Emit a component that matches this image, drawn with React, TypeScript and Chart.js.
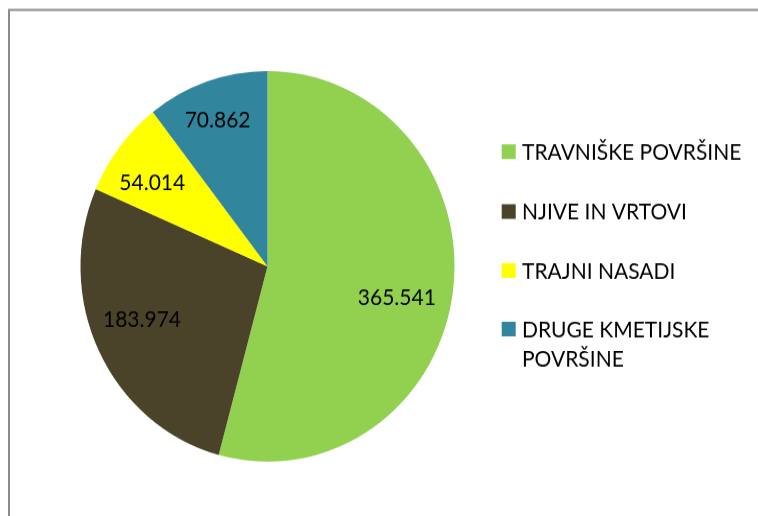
import React, { useEffect, useRef } from "react";
import { Chart, registerables } from "chart.js";

Chart.register(...registerables);

const categories = ["TRAVNIŠKE POVRŠINE", "NJIVE IN VRTOVI", "TRAJNI NASADI", "DRUGE KMETIJSKE POVRŠINE"];
const legendLines = [["TRAVNIŠKE POVRŠINE"], ["NJIVE IN VRTOVI"], ["TRAJNI NASADI"], ["DRUGE KMETIJSKE", "POVRŠINE"]];
const values = [365541, 183974, 54014, 70862];
const valueLabels = ["365.541", "183.974", "54.014", "70.862"];
const colors = ["#92d050", "#4a4229", "#ffff00", "#31859c"];

const FONT = "Lato, 'Open Sans', sans-serif";
const W = 758;
const H = 494; // drawn height, stretched to 516 on the page

const decorPlugin = {
  id: "decor",
  beforeDraw(chart: any) {
    const ctx = chart.ctx;
    ctx.save();
    ctx.fillStyle = "#fff";
    ctx.fillRect(0, 0, W, H);
    ctx.strokeStyle = "#8c8c8c";
    ctx.lineWidth = 2;
    ctx.beginPath();
    ctx.moveTo(9, 520);
    ctx.lineTo(9, 9.6);
    ctx.lineTo(770, 9.6);
    ctx.stroke();
    ctx.restore();
  },
  afterDraw(chart: any) {
    const ctx = chart.ctx;
    ctx.save();
    const meta = chart.getDatasetMeta(0);
    const radFrac = [0.709, 0.724, 0.752, 0.795];
    const angOff = [5.2, 3.7, -2.8, -0.7];
    ctx.font = `21px ${FONT}`;
    ctx.fillStyle = "#000";
    ctx.textAlign = "center";
    ctx.textBaseline = "alphabetic";
    meta.data.forEach((arc: any, i: number) => {
      const p = arc.getProps(["x", "y", "startAngle", "endAngle", "outerRadius"], true);
      const a = (p.startAngle + p.endAngle) / 2 + (angOff[i] * Math.PI) / 180;
      const r = p.outerRadius * radFrac[i];
      ctx.fillText(valueLabels[i], p.x + Math.cos(a) * r, p.y + Math.sin(a) * r + 7.5);
    });
    const rowsY = [145.2, 202.5, 259.0, 315.0];
    ctx.textAlign = "left";
    legendLines.forEach((lines, i) => {
      ctx.fillStyle = colors[i];
      ctx.fillRect(501.7, rowsY[i] - 7, 14, 14);
      ctx.fillStyle = "#000";
      lines.forEach((t, j) => ctx.fillText(t, 522, rowsY[i] + 7.5 + j * 28));
    });
    ctx.restore();
  },
};

export default function App() {
  const ref = useRef<HTMLCanvasElement>(null);
  useEffect(() => {
    const chart = new Chart(ref.current!, {
      type: "pie",
      data: {
        labels: categories,
        datasets: [{ data: values, backgroundColor: colors, borderWidth: 0 }],
      },
      options: {
        responsive: false,
        animation: false,
        layout: { padding: { left: 80.5, top: 68, right: W - 80.5 - 374, bottom: H - 68 - 374 } },
        plugins: { legend: { display: false }, tooltip: { enabled: false } },
      },
      plugins: [decorPlugin],
    });
    return () => chart.destroy();
  }, []);
  return (
    <div style={{ position: "absolute", left: 0, top: 0, width: 758, height: 516, overflow: "hidden", background: "#fff" }}>
      <canvas
        ref={ref}
        width={W}
        height={H}
        style={{
          display: "block",
          width: W,
          height: H,
          transform: `scaleY(${516 / H})`,
          transformOrigin: "0 0",
        }}
      />
    </div>
  );
}
